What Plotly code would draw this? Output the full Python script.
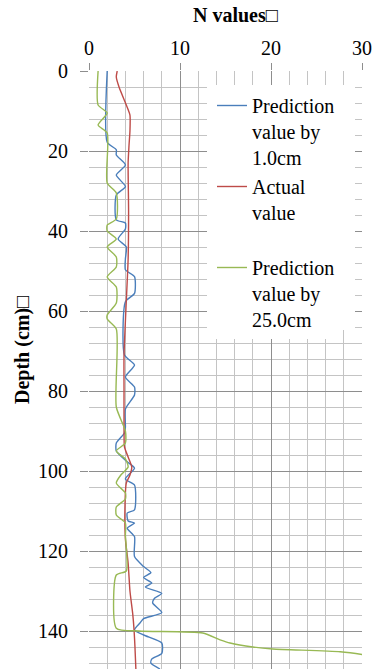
import plotly.graph_objects as go

# ---- data (depth in cm, N value) ----
depth_blue = [0, 17.8, 19.7, 21, 23.5, 26, 28.9, 31, 37.2, 38,
              39.5, 42, 44, 47, 49.7, 51.4, 55.6, 57.7, 71, 73.5,
              76.5, 79, 81, 84.5, 89, 90.5, 93, 95, 97.7, 99.3,
              102, 103.5, 109.7, 110.5, 112.5, 113, 114.3, 116.4, 121.4, 123.9,
              125.4, 126.6, 128, 129, 130.6, 131.8, 133, 135.4, 136.9, 138,
              139.7, 141, 143, 145.6, 147, 148, 149.5]
n_blue = [2, 2, 3, 3, 4, 3, 4, 3, 3, 4,
          4, 3.2, 4.1, 4, 4, 5, 5, 4, 3.9, 5,
          4, 5, 5, 4, 4, 3.9, 3, 3, 4.2, 5,
          4, 5, 5, 4.2, 4.3, 5, 4.2, 5, 5, 6,
          6.8, 6, 6.9, 6.2, 8, 7.2, 7, 8, 6, 5.6,
          5, 6, 8, 8, 6.9, 6.8, 7.8]

depth_red = [0, 1.5, 4, 8.5, 11, 15, 18.5, 23, 35, 47,
             60, 71, 80, 90, 94, 96.5, 99, 101, 103, 109,
             117, 123, 130, 135.6, 139.7, 144, 149.5]
n_red = [3.1, 3.0, 3.3, 4.1, 4.5, 4.5, 4.4, 4.3, 4.35, 4.3,
         4.05, 3.85, 3.85, 3.85, 3.9, 4.3, 4.7, 4.5, 4.1, 3.95,
         4.0, 4.3, 4.5, 4.8, 4.95, 5.05, 5.15]

depth_green = [0, 8.5, 10.5, 13.5, 15.5, 28, 30.5, 37, 38.5, 40,
               42, 44, 46.5, 49, 51.5, 54, 58, 61, 62, 64.5,
               84, 90, 93, 95, 97, 99, 101, 103, 105.5, 107,
               109, 111, 113, 116, 125, 126, 139.3, 140, 140.5, 142.2,
               143, 144, 144.5, 145.2, 146, 146.3]
n_green = [1, 1, 2, 1, 2, 2, 3, 3, 2, 2,
           3, 2, 3, 3, 2, 3, 3, 2, 2, 3,
           3, 4, 4, 3, 4, 4.3, 3.5, 3, 4, 4,
           3, 3, 4, 4, 4.1, 3, 3, 5.5, 12.5, 14.4,
           15.5, 18, 20.2, 27.6, 30.3, 31]

names = ["Prediction<br>value by<br>1.0cm", "Actual<br>value<br>\u00a0", "Prediction<br>value by<br>25.0cm"]
colors = ["#4a7ebb", "#be4b48", "#98b954"]

x_title = "N values□"
y_title = "Depth (cm)□"

FONT = "Liberation Serif"

# plot-area pixel geometry helpers (layout only)
L, R, T, B = 89, 362, 71, 669
def px_x(p):
    return (p - L) / (R - L)
def px_y(p):
    return 1 - (p - T) / (B - T)

fig = go.Figure()
for xs, ys, nm, c in [(n_blue, depth_blue, names[0], colors[0]),
                      (n_red, depth_red, names[1], colors[1]),
                      (n_green, depth_green, names[2], colors[2])]:
    fig.add_trace(go.Scatter(x=xs, y=ys, name=nm, mode="lines",
                             line=dict(color=c, width=1.4, shape="spline", smoothing=0.6)))

MAJ = "#8e8e8e"
MIN = "#c4c4c4"
fig.update_layout(
    width=372, height=669,
    margin=dict(l=L, r=372 - R, t=T, b=0, pad=0),
    paper_bgcolor="white", plot_bgcolor="white",
    font=dict(family=FONT, size=20, color="black"),
    showlegend=True,
    legend=dict(x=px_x(212), y=px_y(86), xanchor="left", yanchor="top",
                bgcolor="white", borderwidth=0, valign="top",
                font=dict(family=FONT, size=20, color="black"),
                itemwidth=30, tracegroupgap=0),
    xaxis=dict(range=[0, 30], side="top", dtick=10, tick0=0,
               showgrid=True, gridcolor=MAJ, gridwidth=1.3,
               ticks="outside", ticklen=7, tickcolor=MAJ, tickwidth=1.3,
               tickfont=dict(family=FONT, size=20, color="black"),
               minor=dict(dtick=2, showgrid=True, gridcolor=MIN, gridwidth=1.3),
               zeroline=False, showline=False),
    yaxis=dict(range=[149.5, 0], dtick=20, tick0=0,
               showgrid=True, gridcolor=MAJ, gridwidth=1.3,
               ticks="outside", ticklen=8, tickcolor=MAJ, tickwidth=1.3,
               ticklabelstandoff=8,
               tickfont=dict(family=FONT, size=20, color="black"),
               minor=dict(dtick=4, showgrid=True, gridcolor=MIN, gridwidth=1.3),
               zeroline=False, showline=False),
    shapes=[dict(type="rect", xref="paper", yref="paper", layer="above",
                 x0=px_x(207), x1=px_x(355), y0=px_y(330), y1=px_y(85),
                 fillcolor="white", line=dict(width=0))],
    annotations=[
        dict(text="<b>" + x_title + "</b>", xref="paper", yref="paper",
             x=px_x(235), y=px_y(15), xanchor="center", yanchor="middle",
             showarrow=False, font=dict(family=FONT, size=20, color="black")),
        dict(text="<b>" + y_title + "</b>", xref="paper", yref="paper",
             x=px_x(22), y=px_y(350), xanchor="center", yanchor="middle",
             textangle=-90, showarrow=False, font=dict(family=FONT, size=20, color="black")),
    ],
)

fig.write_html("out.html")
